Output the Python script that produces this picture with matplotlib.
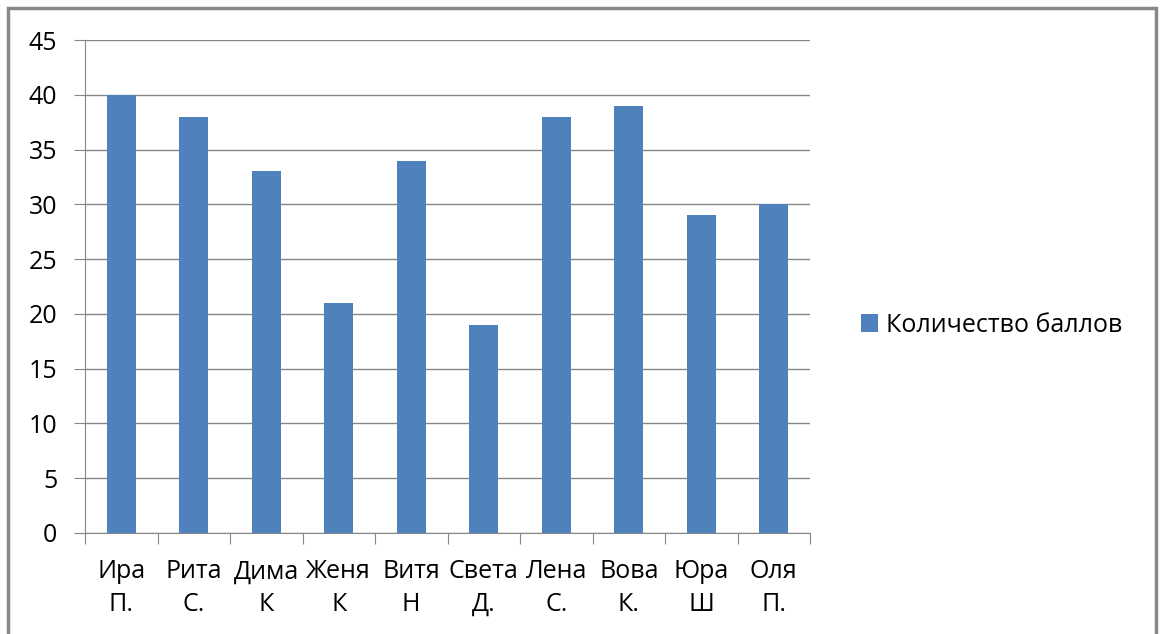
import matplotlib.pyplot as plt
from matplotlib.patches import Rectangle
import numpy as np

plt.rcParams['font.family'] = ['Open Sans', 'DejaVu Sans']

names = ["Ира\nП.", "Рита\nС.", "Дима\nК", "Женя\nК", "Витя\nН",
         "Света\nД.", "Лена\nС.", "Вова\nК.", "Юра\nШ", "Оля\nП."]
scores = [40, 38, 33, 21, 34, 19, 38, 39, 29, 30]

fig = plt.figure(figsize=(11.61, 6.34), dpi=100)
ax = fig.add_axes([85/1161, 1 - 533/634, (810 - 85)/1161, (533 - 40)/634])

x = np.arange(len(names))
ax.bar(x, scores, width=0.4, color='#4F81BD', label='Количество баллов', zorder=3)

ax.set_xlim(-0.5, len(names) - 0.5)
ax.set_ylim(0, 45)
ax.set_yticks(range(0, 46, 5))
ax.yaxis.grid(True, color='#868686', linewidth=1, zorder=0)

ax.set_xticks(np.arange(-0.5, len(names), 1))
ax.set_xticklabels([])
ax.set_xticks(x, minor=True)
ax.set_xticklabels(names, minor=True, fontsize=18, linespacing=1.4)
ax.tick_params(axis='x', which='minor', length=0, pad=19)
ax.tick_params(axis='x', which='major', length=8, color='#868686')
ax.tick_params(axis='y', length=8, color='#868686', labelsize=18, pad=12)

for s in ['top', 'right']:
    ax.spines[s].set_visible(False)
for s in ['left', 'bottom']:
    ax.spines[s].set_color('#868686')

fig.legend(loc='center left', bbox_to_anchor=(838/1161, 1 - 325/634),
           frameon=False, fontsize=18, handlelength=0.7, handleheight=0.7,
           handletextpad=0.3)

fig.patches.append(Rectangle((8/1161, -0.05), (1156 - 8)/1161, 1.05 - 8/634,
                             transform=fig.transFigure, fill=False,
                             edgecolor='#888888', linewidth=2.5))

fig.savefig('out.png', dpi=100)
